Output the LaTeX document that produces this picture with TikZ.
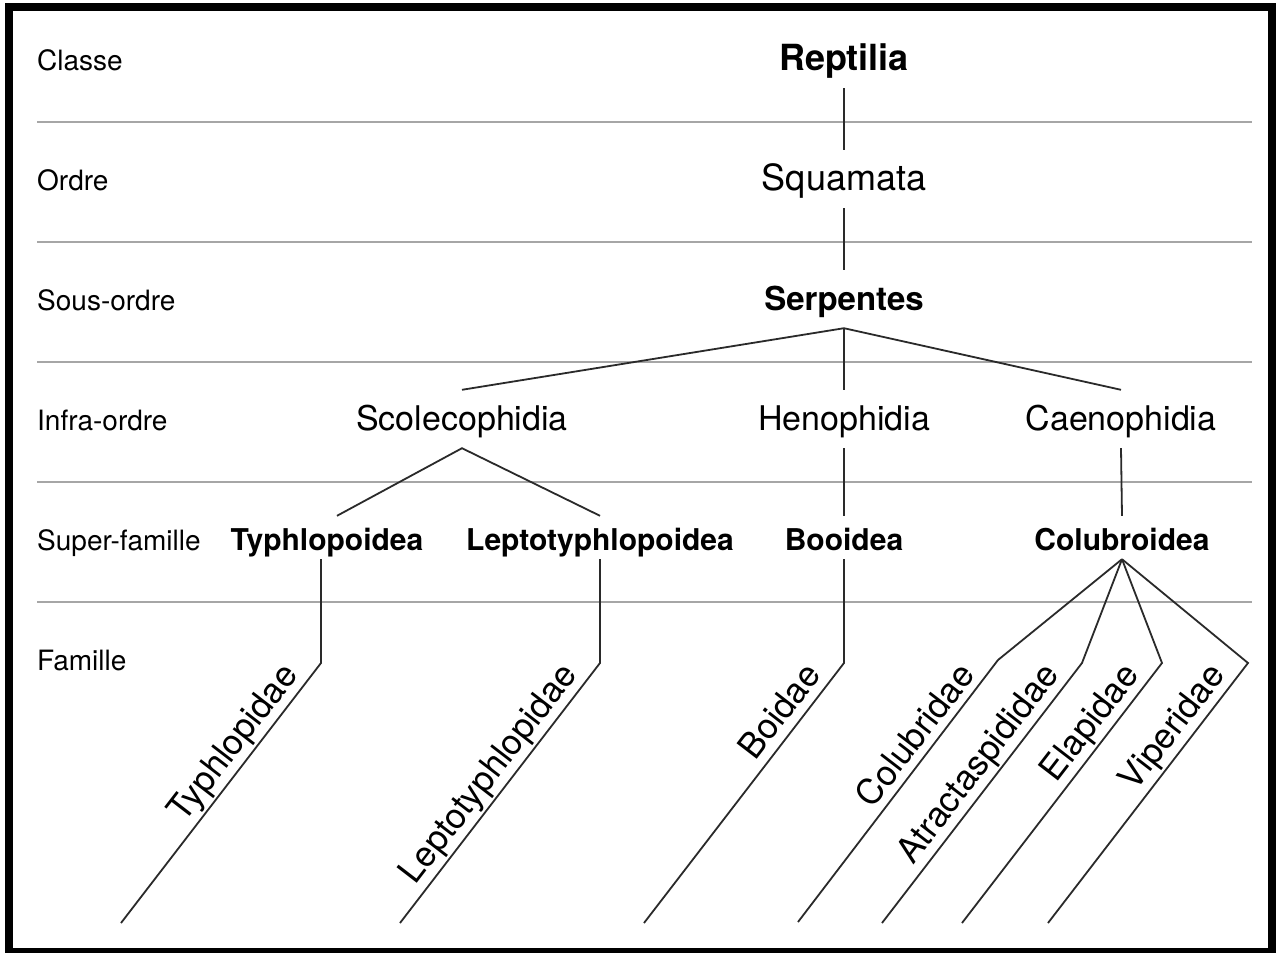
\documentclass[tikz,border=0pt]{standalone}
\usepackage{fontspec}
\setmainfont{TeX Gyre Heros}
\usetikzlibrary{calc}
\definecolor{rulegray}{HTML}{A6A6A6}
\definecolor{linedark}{HTML}{2A2A2A}
\tikzset{
  rowlab/.style={anchor=base west, inner sep=0pt, font=\fontsize{28}{30}\selectfont},
  taxon/.style={anchor=base, inner sep=0pt, text height=40pt, text depth=18pt, font=\fontsize{34}{36}\selectfont},
  supf/.style={anchor=base, inner sep=0pt, text height=34pt, text depth=9pt, font=\bfseries\fontsize{30}{32}\selectfont},
  fam/.style={anchor=base east, inner sep=0pt, rotate=52.4, font=\fontsize{35}{37}\selectfont},
  rankline/.style={draw=rulegray, line width=1.8pt},
  conn/.style={draw=linedark, line width=1.8pt, line join=miter},
  frame/.style={draw=black, line width=8pt}
}
\begin{document}
\begin{tikzpicture}[x=1pt, y=-1pt]
\useasboundingbox (0,0) rectangle (1278,953);
\fill[white] (0,0) rectangle (1278,953);
\draw[frame] (9,7) rectangle (1272,952);

% rank separators
\foreach \yy in {122,242,362,482,602} {
  \draw[rankline] (37,\yy) -- (1252,\yy);
}

% rank labels
\node[rowlab] (r1) at (37,70) {Classe};
\node[rowlab] (r2) at (37,190) {Ordre};
\node[rowlab] (r3) at (37,310) {Sous-ordre};
\node[rowlab] (r4) at (37,430) {Infra-ordre};
\node[rowlab] (r5) at (37,550) {Super-famille};
\node[rowlab] (r6) at (37,670) {Famille};

% taxa
\node[taxon, font=\bfseries\fontsize{36}{38}\selectfont] (rep) at (844,70) {Reptilia};
\node[taxon, font=\fontsize{36}{38}\selectfont] (squ) at (844,190) {Squamata};
\node[taxon, font=\bfseries\fontsize{33}{35}\selectfont] (ser) at (844,310) {Serpentes};
\node[taxon] (sco) at (462,430) {Scolecophidia};
\node[taxon] (hen) at (844,430) {Henophidia};
\node[taxon] (cae) at (1121,430) {Caenophidia};
\node[supf] (typ) at (327,550) {Typhlopoidea};
\node[supf] (lep) at (600,550) {Leptotyphlopoidea};
\node[supf] (boo) at (844,550) {Booidea};
\node[supf] (col) at (1122,550) {Colubroidea};

% connectors
\draw[conn] (rep.south) -- (squ.north);
\draw[conn] (squ.south) -- (ser.north);
\draw[conn] (sco.north) -- (ser.south) -- (cae.north);
\draw[conn] (ser.south) -- (hen.north);
\draw[conn] ([xshift=10pt]typ.north) -- (sco.south) -- (lep.north);
\draw[conn] (hen.south) -- (boo.north);
\draw[conn] (cae.south) -- (col.north);

% family corners
\coordinate (f1) at (321,663);
\coordinate (f2) at (600,663);
\coordinate (f3) at (844,663);
\coordinate (f4) at (998,660);
\coordinate (f5) at (1082,663);
\coordinate (f6) at (1162,663);
\coordinate (f7) at (1248,663);

\draw[conn] ([xshift=-6pt]typ.south) -- (f1) -- ++(-200,260);
\draw[conn] (lep.south) -- (f2) -- ++(-200,260);
\draw[conn] (boo.south) -- (f3) -- ++(-200,260);
\draw[conn] (col.south) -- (f4) -- ++(-200,262);
\draw[conn] (col.south) -- (f5) -- ++(-200,260);
\draw[conn] (col.south) -- (f6) -- ++(-200,260);
\draw[conn] (col.south) -- (f7) -- ++(-200,260);

% family labels
\node[fam] (l1) at ($(f1)+(-22,12)$) {Typhlopidae};
\node[fam] (l2) at ($(f2)+(-22,12)$) {Leptotyphlopidae};
\node[fam] (l3) at ($(f3)+(-22,12)$) {Boidae};
\node[fam] (l4) at ($(f4)+(-22,15)$) {Colubridae};
\node[fam] (l5) at ($(f5)+(-22,12)$) {Atractaspididae};
\node[fam] (l6) at ($(f6)+(-22,12)$) {Elapidae};
\node[fam] (l7) at ($(f7)+(-22,12)$) {Viperidae};
\end{tikzpicture}
\end{document}
